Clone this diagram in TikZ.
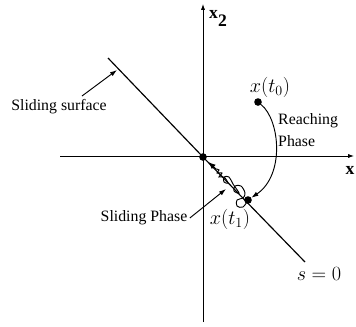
\documentclass[tikz,border=0pt]{standalone}
\usepackage{fontspec}
\setmainfont{Liberation Serif}
\usepackage{tikz}
\usetikzlibrary{arrows.meta,positioning,decorations.pathmorphing}

\begin{document}
\begin{tikzpicture}[x=0.03cm, y=-0.03cm,
  sDot/.style   ={circle, fill=black, inner sep=0pt, minimum size=6.5pt},
  sAxis/.style  ={line width=0.7pt, -{Latex[length=5pt,width=3.5pt]}},
  sLine/.style  ={line width=1pt},
  sPoint/.style ={line width=0.8pt, -{Latex[length=6pt,width=4pt]}},
  sTxt/.style   ={font=\fontsize{13.5}{18}\selectfont, inner sep=0pt},
  sMath/.style  ={font=\fontsize{17}{20}\selectfont, inner sep=0pt},
  sAxTxt/.style ={font=\fontsize{15}{18}\selectfont\bfseries, inner sep=0pt},
]
\useasboundingbox (0,0) rectangle (356,326);

% axes
\coordinate (xL) at (60,156);
\coordinate (xR) at (354,156);
\coordinate (yB) at (203,322);
\coordinate (yT) at (203,4);
\draw[sAxis] (xL) -- (xR);
\draw[sAxis] (yB) -- (yT);
\node[sAxTxt, anchor=base west] (lblX2) at (209,18) {x\raisebox{-7.5pt}{2}};
\node[sAxTxt] (lblX) at (350,170) {x};

% sliding line s = 0
\node[sDot] (O)  at (203,157) {};
\node[sDot] (t1) at (248,200) {};
\node[sDot] (t0) at (258,102) {};
\coordinate (sTop) at (108,58);
\coordinate (sBot) at (305,262);
\draw[sLine] (sTop) -- (O.center) -- (sBot);
\node[sMath] (lblS) at (319,274) {$s=0$};

% labels
\node[sTxt] (lblSS) at (59,107) {Sliding surface};
\node[sTxt] (lblSP) at (144,218) {Sliding Phase};
\node[sTxt, align=left, anchor=base west] (lblRP) at (278,146) {Reaching\\Phase};
\node[sMath] (lblT0) at (270,87) {$x(t_0)$};
\node[sMath] (lblT1) at (230,219) {$x(t_1)$};

% pointers
\coordinate (ssFoot) at (82,96);
\coordinate (ssTip)  at (117,70);
\draw[sPoint] (ssFoot) -- (ssTip);
\coordinate (spTip) at (226,189);
\draw[sPoint] ([xshift=2pt]lblSP.east) -- (spTip);

% reaching phase
\draw[sPoint] (t0) .. controls (280,120) and (285,175) .. (t1);

% sliding phase (chattering)
\coordinate (chArr) at (216,169);
\draw[line width=0.8pt] plot[smooth, tension=0.6] coordinates {
  (248,200) (243,207) (237,206) (237,200) (243,198)
  (245,193) (241,186) (235,186) (234,191) (239,193)
  (233,184) (229,177) (224,177) (224,182) (228,183)
  (224,177) (219,177) (222,173) (217,173) (219,170) (216,169)};
\draw[line width=0.8pt, -{Latex[length=6pt,width=5pt]}, shorten >=3pt] (chArr) -- (O);
\end{tikzpicture}
\end{document}
